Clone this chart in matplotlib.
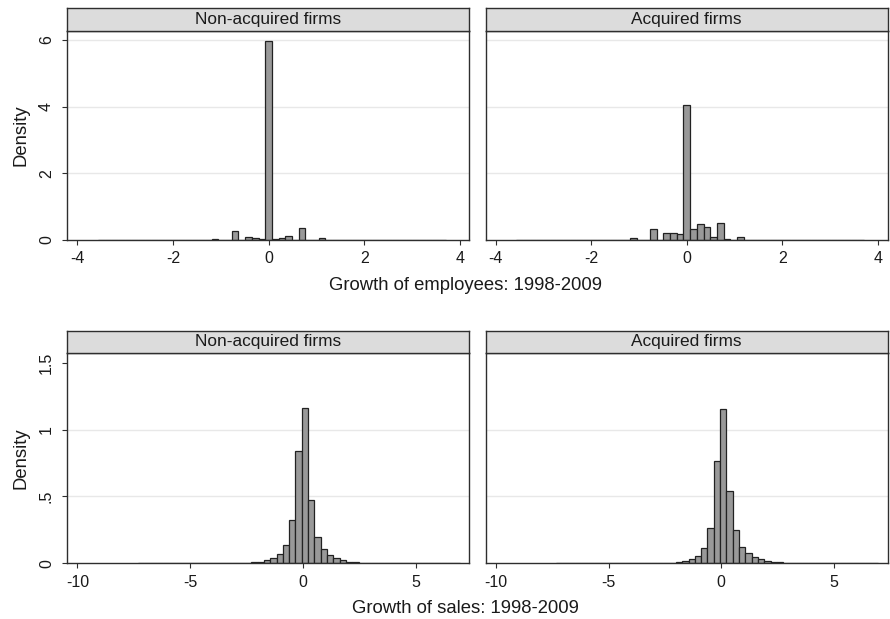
import matplotlib
matplotlib.use('Agg')
import matplotlib.pyplot as plt
import numpy as np

plt.rcParams['font.family'] = ['Liberation Sans', 'DejaVu Sans']

# ---------------- data ----------------
panel_titles = ["Non-acquired firms", "Acquired firms"]

# Growth of employees: histogram densities (bin width 0.14, first left edge -3.57)
emp_bin_start = -3.57
emp_bin_width = 0.14
emp_nonacq = [0, 0.003, 0, 0, 0, 0, 0, 0, 0.002, 0.003, 0.003, 0.003, 0.003,
              0.003, 0.003, 0.003, 0.004, 0.03, 0.004, 0.005, 0.28, 0.01, 0.08,
              0.05, 0.02, 5.97, 0.03, 0.07, 0.11, 0.01, 0.35, 0.005, 0.005, 0.05,
              0.003, 0.003, 0.003, 0.003, 0.003, 0.003, 0.003, 0.003, 0.003,
              0.003, 0.003, 0.003, 0.003, 0.003, 0.003, 0.003, 0.003, 0]
emp_acq = [0, 0, 0, 0, 0, 0, 0, 0, 0, 0.003, 0.003, 0.003, 0.003, 0.003, 0.003,
           0.003, 0.004, 0.07, 0.005, 0.004, 0.32, 0.01, 0.2, 0.2, 0.18, 4.05,
           0.33, 0.48, 0.39, 0.1, 0.5, 0.02, 0.005, 0.08, 0.005, 0.012, 0.003,
           0.003, 0.003, 0.003, 0.003, 0.003, 0.003, 0, 0, 0, 0, 0, 0, 0, 0, 0]

# Growth of sales: histogram densities (bin width 0.28, first left edge -7.33)
sales_bin_start = -7.33
sales_bin_width = 0.28
sales_nonacq = [0, 0.003, 0, 0, 0, 0.003, 0, 0.002, 0.002, 0.002, 0.002,
                0.003, 0.003, 0.003, 0.003, 0.003, 0.003, 0.003,
                0.006, 0.011, 0.025, 0.042, 0.073, 0.14, 0.325, 0.84,
                1.163, 0.47, 0.2, 0.11, 0.063, 0.039, 0.021, 0.011, 0.006,
                0.002, 0.002, 0.002, 0.002, 0.002, 0.002, 0.002, 0.002, 0.002,
                0.002, 0.002, 0.002, 0, 0, 0, 0.003]
sales_acq = [0, 0, 0, 0, 0, 0, 0, 0, 0, 0, 0,
             0.003, 0.003, 0, 0.003, 0.003, 0.003, 0.003,
             0.005, 0.01, 0.018, 0.035, 0.055, 0.115, 0.265, 0.765,
             1.155, 0.54, 0.25, 0.12, 0.075, 0.05, 0.03, 0.02, 0.012, 0.007,
             0.004, 0.002, 0.002, 0.002, 0.002, 0.002, 0.002, 0.002, 0,
             0.003, 0.003, 0, 0, 0, 0]

emp_xticks = [-4, -2, 0, 2, 4]
emp_yticks = [0, 2, 4, 6]
emp_yticklabels = ["0", "2", "4", "6"]
emp_grid = [2, 4, 6]
sales_xticks = [-10, -5, 0, 5]
sales_yticks = [0, 0.5, 1, 1.5]
sales_yticklabels = ["0", ".5", "1", "1.5"]
sales_grid = [0.5, 1]

emp_xlabel = "Growth of employees: 1998-2009"
sales_xlabel = "Growth of sales: 1998-2009"
ylabel = "Density"

# ---------------- layout ----------------
W, H = 890, 619
DPI = 100
fig = plt.figure(figsize=(W / DPI, H / DPI), dpi=DPI)
fig.patch.set_facecolor('white')

def rect(l, t, r, b):
    return [l / W, 1 - b / H, (r - l) / W, (b - t) / H]

FRAME = '#2e2e2e'
BAR_FACE = '#999999'
BAR_EDGE = '#222222'
GRID = '#e8e8e8'
TXT = '#1a1a1a'

cols = [(67.3, 469.3), (485.7, 887.5)]
rows = [dict(strip=(8.3, 30.7), plot=(30.7, 240.0), start=emp_bin_start,
             width=emp_bin_width, data=[emp_nonacq, emp_acq], xlim=(-4.21, 4.2),
             ylim=(0, 6.28), xticks=emp_xticks, yticks=emp_yticks,
             yticklabels=emp_yticklabels, grid=emp_grid),
        dict(strip=(331.0, 352.7), plot=(352.7, 563.3), start=sales_bin_start,
             width=sales_bin_width, data=[sales_nonacq, sales_acq],
             xlim=(-10.45, 7.38), ylim=(0, 1.575), xticks=sales_xticks,
             yticks=sales_yticks, yticklabels=sales_yticklabels, grid=sales_grid)]

for r in rows:
    for j, (l, rr) in enumerate(cols):
        ax = fig.add_axes(rect(l, r['plot'][0], rr, r['plot'][1]))
        heights = np.array(r['data'][j])
        edges = r['start'] + r['width'] * np.arange(len(heights))
        for g in r['grid']:
            ax.axhline(g, color=GRID, lw=1.0, zorder=0)
        ax.bar(edges, heights, width=r['width'], align='edge', color=BAR_FACE,
               edgecolor=BAR_EDGE, linewidth=0.9, zorder=2)
        ax.set_xlim(*r['xlim'])
        ax.set_ylim(*r['ylim'])
        ax.set_xticks(r['xticks'])
        ax.set_xticklabels([str(t) for t in r['xticks']])
        for s in ax.spines.values():
            s.set_color(FRAME)
            s.set_linewidth(1.0)
            s.set_zorder(3)
        ax.tick_params(axis='x', direction='out', length=3.6, width=0.8,
                       colors=FRAME, labelcolor=TXT, labelsize=11.5, pad=4.5)
        if j == 0:
            ax.set_yticks(r['yticks'])
            ax.set_yticklabels(r['yticklabels'], rotation=90, va='center')
            ax.tick_params(axis='y', direction='out', length=3.6, width=0.8,
                           colors=FRAME, labelcolor=TXT, labelsize=11.5, pad=6)
        else:
            ax.set_yticks([])
        # strip
        sax = fig.add_axes(rect(l, r['strip'][0], rr, r['strip'][1]))
        sax.set_facecolor('#dcdcdc')
        sax.set_xticks([])
        sax.set_yticks([])
        for s in sax.spines.values():
            s.set_color(FRAME)
            s.set_linewidth(1.0)
        sax.text(0.5, 0.5, panel_titles[j], ha='center', va='center',
                 fontsize=12.4, color=TXT, transform=sax.transAxes)

# axis titles
fig.text(465.7 / W, 1 - 290.0 / H, emp_xlabel, ha='center', va='baseline',
         fontsize=13.3, color=TXT)
fig.text(465.7 / W, 1 - 613.3 / H, sales_xlabel, ha='center', va='baseline',
         fontsize=13.3, color=TXT)
fig.text(21 / W, 1 - 135.3 / H, ylabel, ha='center', va='center', rotation=90,
         fontsize=13.3, color=TXT)
fig.text(21 / W, 1 - 458.0 / H, ylabel, ha='center', va='center', rotation=90,
         fontsize=13.3, color=TXT)

fig.savefig('out.png', dpi=DPI, facecolor='white')
